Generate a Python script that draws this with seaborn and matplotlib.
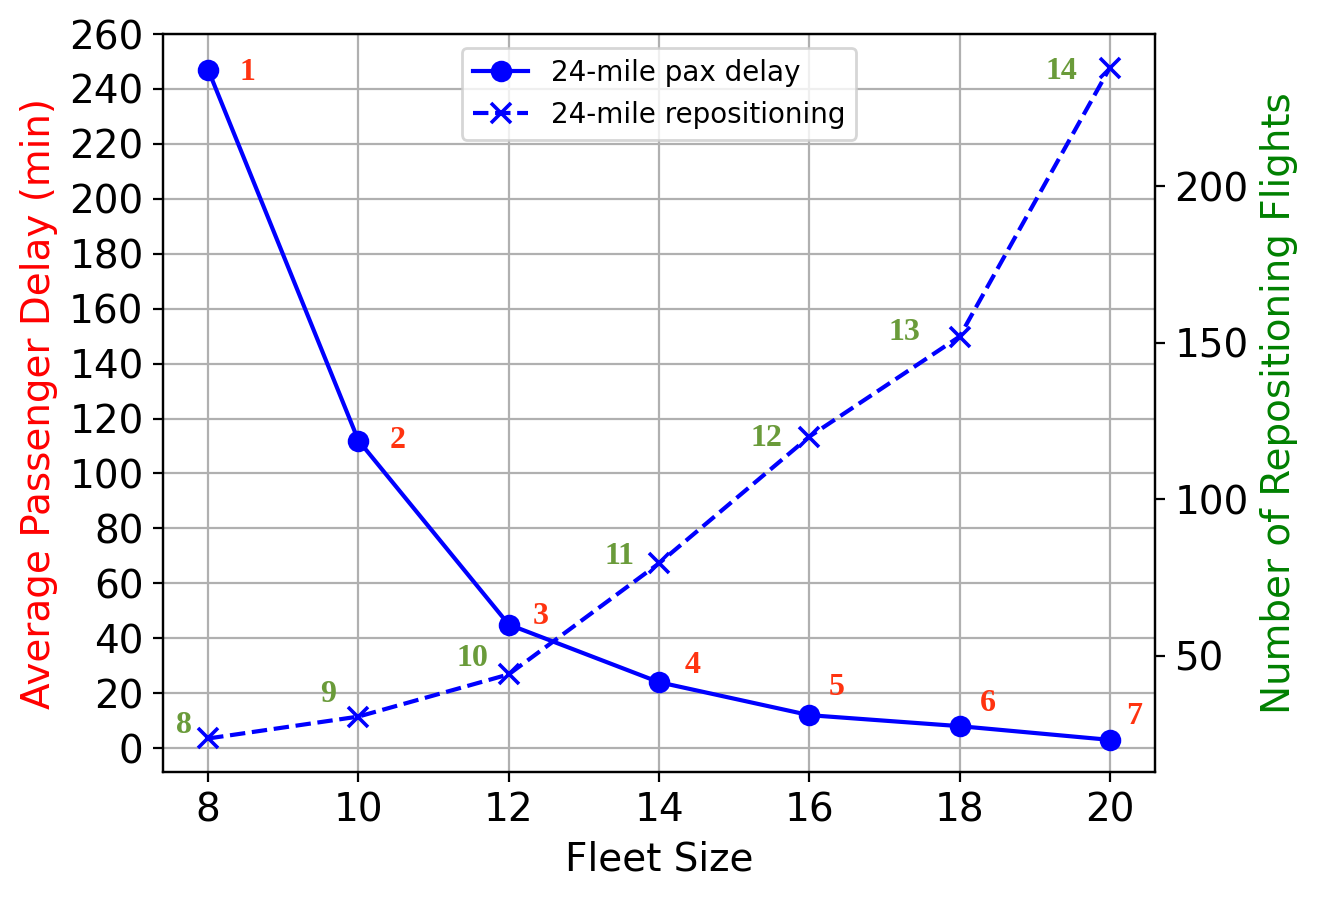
import numpy as np
import pandas as pd
import seaborn as sns
import matplotlib
matplotlib.use("Agg")
import matplotlib.pyplot as plt

fleet_size = [8, 10, 12, 14, 16, 18, 20]
pax_delay = [247, 112, 45, 24, 12, 8, 3]
repositioning = [23.5, 30.5, 44, 79.5, 120, 152, 238]
delay_tags = ["1", "2", "3", "4", "5", "6", "7"]
repo_tags = ["8", "9", "10", "11", "12", "13", "14"]

# label nudges in points (dx, dy)
delay_nudge = [(14, -1), (14, 0), (11.5, 3), (12, 6), (10, 10), (10, 8), (8.6, 8.4)]
repo_nudge = [(-8.6, 4.6), (-11, 7.8), (-13, 5.7), (-14.4, 2.4), (-15.5, -0.8), (-19.8, 1.4), (-17.3, -1.5)]

red_txt = "#ff3310"
green_txt = "#6a9b3a"

df = pd.DataFrame({"fleet": fleet_size, "delay": pax_delay, "repo": repositioning})

fig, ax = plt.subplots(figsize=(6.585, 4.5), dpi=200)
fig.subplots_adjust(left=0.1238, right=0.877, top=0.9622, bottom=0.1422)
ax2 = ax.twinx()

sns.lineplot(data=df, x="fleet", y="delay", ax=ax, color="blue", marker="o",
             markersize=7, markeredgecolor="blue", label="24-mile pax delay", legend=False)
sns.lineplot(data=df, x="fleet", y="repo", ax=ax2, color="blue", marker="x",
             markersize=7, markeredgecolor="blue", markeredgewidth=1.3, linestyle="--",
             label="24-mile repositioning", legend=False)

for x, y, t, (dx, dy) in zip(fleet_size, pax_delay, delay_tags, delay_nudge):
    ax.annotate(t, (x, y), xytext=(dx, dy), textcoords="offset points",
                ha="center", va="center", color=red_txt, fontsize=11.5,
                fontweight="bold", family="Liberation Serif")
for x, y, t, (dx, dy) in zip(fleet_size, repositioning, repo_tags, repo_nudge):
    ax2.annotate(t, (x, y), xytext=(dx, dy), textcoords="offset points",
                 ha="center", va="center", color=green_txt, fontsize=11.5,
                 fontweight="bold", family="Liberation Serif")

ax.set_ylim(-8.7, 260)
ax.set_yticks(np.arange(0, 261, 20))
ax.set_xticks(fleet_size)
ax.grid(True)
ax.set_xlabel("Fleet Size", fontsize=14)
ax.set_ylabel("Average Passenger Delay (min)", color="red", fontsize=14)
ax2.set_ylabel("Number of Repositioning Flights", color="green", fontsize=14)
ax.tick_params(labelsize=14)
ax2.tick_params(labelsize=14)
ax2.set_yticks([50, 100, 150, 200])

h1, l1 = ax.get_legend_handles_labels()
h2, l2 = ax2.get_legend_handles_labels()
ax.legend(h1 + h2, l1 + l2, loc="upper center", fontsize=10)

fig.savefig("out.png", dpi=200)
